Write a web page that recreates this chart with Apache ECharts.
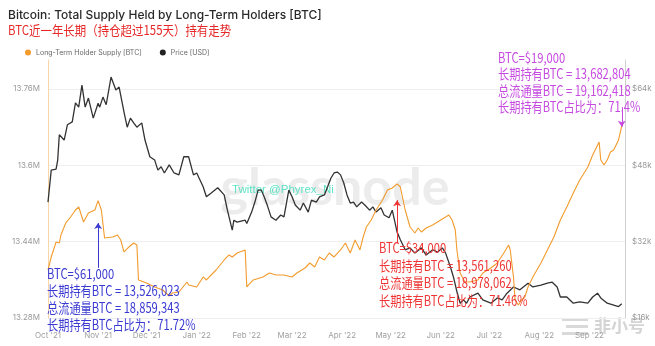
<!DOCTYPE html>
<html>
<head>
<meta charset="utf-8">
<script src="https://cdn.jsdelivr.net/npm/echarts@6/dist/echarts.min.js"></script>
<style>
  html, body { margin: 0; padding: 0; background: #ffffff; }
  #chart { width: 655px; height: 346px; }
</style>
</head>
<body>
<div id="chart"></div>
<script>
// Long-term holder supply, millions of BTC
const lthSupplyM = [
  ['2021-10-01', 13.3806], ['2021-10-03', 13.4079], ['2021-10-06', 13.4393], ['2021-10-08', 13.4372],
  ['2021-10-09', 13.4540], ['2021-10-12', 13.4792], ['2021-10-15', 13.4917], ['2021-10-18', 13.5064],
  ['2021-10-20', 13.5127], ['2021-10-23', 13.4813], ['2021-10-26', 13.5001], ['2021-10-30', 13.5064],
  ['2021-11-01', 13.5260], ['2021-11-03', 13.5064], ['2021-11-05', 13.4477], ['2021-11-10', 13.4498],
  ['2021-11-13', 13.4540], ['2021-11-15', 13.4435], ['2021-11-17', 13.4184], ['2021-11-20', 13.4288],
  ['2021-11-23', 13.4372], ['2021-11-25', 13.4330], ['2021-11-26', 13.3597],
  ['2021-12-01', 13.3534], ['2021-12-06', 13.3450], ['2021-12-11', 13.3387], ['2021-12-15', 13.3261],
  ['2021-12-17', 13.3324], ['2021-12-21', 13.3345], ['2021-12-26', 13.3555], ['2021-12-27', 13.3492],
  ['2022-01-01', 13.3450], ['2022-01-05', 13.3660], ['2022-01-07', 13.3597], ['2022-01-13', 13.3806],
  ['2022-01-18', 13.4016], ['2022-01-21', 13.4121], ['2022-01-23', 13.4079], ['2022-01-26', 13.4163],
  ['2022-01-31', 13.4226],
  ['2022-02-01', 13.3450], ['2022-02-05', 13.3597], ['2022-02-11', 13.3660], ['2022-02-15', 13.3743],
  ['2022-02-19', 13.3701], ['2022-02-24', 13.3701],
  ['2022-03-01', 13.3660], ['2022-03-04', 13.3743], ['2022-03-09', 13.3848], ['2022-03-12', 13.3953],
  ['2022-03-15', 13.3869], ['2022-03-18', 13.4079], ['2022-03-21', 13.4016], ['2022-03-24', 13.4163],
  ['2022-03-27', 13.4079], ['2022-03-31', 13.4226],
  ['2022-04-03', 13.4372], ['2022-04-06', 13.4163], ['2022-04-09', 13.4435], ['2022-04-12', 13.4226],
  ['2022-04-14', 13.4498], ['2022-04-16', 13.4708], ['2022-04-19', 13.4854], ['2022-04-22', 13.5064],
  ['2022-04-26', 13.5274], ['2022-04-29', 13.5483],
  ['2022-05-02', 13.5525], ['2022-05-05', 13.5613], ['2022-05-07', 13.5546], ['2022-05-10', 13.5064],
  ['2022-05-13', 13.4708], ['2022-05-16', 13.4582], ['2022-05-18', 13.4687], ['2022-05-20', 13.4603],
  ['2022-05-23', 13.4687], ['2022-05-27', 13.4750], ['2022-05-30', 13.4813],
  ['2022-06-04', 13.4917], ['2022-06-06', 13.4959], ['2022-06-08', 13.4854], ['2022-06-10', 13.4645],
  ['2022-06-11', 13.4226], ['2022-06-13', 13.3743], ['2022-06-16', 13.3555], ['2022-06-19', 13.3555],
  ['2022-06-24', 13.3597], ['2022-06-27', 13.3743],
  ['2022-07-02', 13.3848], ['2022-07-06', 13.3953], ['2022-07-10', 13.4163], ['2022-07-13', 13.4330],
  ['2022-07-14', 13.4226], ['2022-07-16', 13.3660], ['2022-07-17', 13.3177], ['2022-07-19', 13.3073],
  ['2022-07-21', 13.3177], ['2022-07-23', 13.3240], ['2022-07-25', 13.3450], ['2022-07-28', 13.3660],
  ['2022-08-02', 13.3953], ['2022-08-06', 13.4226], ['2022-08-10', 13.4498], ['2022-08-14', 13.4854],
  ['2022-08-18', 13.5127], ['2022-08-22', 13.5420], ['2022-08-26', 13.5693], ['2022-08-31', 13.5966],
  ['2022-09-03', 13.6217], ['2022-09-07', 13.6490], ['2022-09-08', 13.6112], ['2022-09-10', 13.6007],
  ['2022-09-12', 13.6112], ['2022-09-14', 13.6280], ['2022-09-16', 13.6322], ['2022-09-19', 13.6532],
  ['2022-09-21', 13.6828]
];

// BTC price, USD
const priceUsd = [
  ['2021-10-01', 40300], ['2021-10-03', 47000], ['2021-10-06', 47200], ['2021-10-07', 49100],
  ['2021-10-08', 54400], ['2021-10-11', 53300], ['2021-10-13', 56500], ['2021-10-16', 57100],
  ['2021-10-18', 61100], ['2021-10-20', 60200], ['2021-10-22', 64800], ['2021-10-24', 60200],
  ['2021-10-26', 62100], ['2021-10-29', 57900], ['2021-11-01', 61000], ['2021-11-02', 60200],
  ['2021-11-04', 62300], ['2021-11-06', 60700], ['2021-11-09', 66500], ['2021-11-12', 63800],
  ['2021-11-14', 64400], ['2021-11-17', 59200], ['2021-11-19', 56000], ['2021-11-21', 57900],
  ['2021-11-23', 56900], ['2021-11-25', 56000], ['2021-11-28', 56900], ['2021-11-30', 53300],
  ['2021-12-03', 49800], ['2021-12-06', 49100], ['2021-12-08', 47000], ['2021-12-10', 47700],
  ['2021-12-12', 46400], ['2021-12-15', 48100], ['2021-12-18', 46400], ['2021-12-21', 46000],
  ['2021-12-24', 49800], ['2021-12-27', 49800], ['2021-12-30', 46000],
  ['2022-01-01', 46400], ['2022-01-05', 43500], ['2022-01-07', 41400], ['2022-01-10', 42200],
  ['2022-01-14', 43300], ['2022-01-18', 41800], ['2022-01-20', 38600], ['2022-01-23', 34400],
  ['2022-01-24', 36500], ['2022-01-26', 36100], ['2022-01-31', 36500],
  ['2022-02-01', 35800], ['2022-02-04', 38200], ['2022-02-06', 40300], ['2022-02-08', 42800],
  ['2022-02-10', 42800], ['2022-02-12', 41200], ['2022-02-14', 39300], ['2022-02-16', 37200],
  ['2022-02-19', 36500], ['2022-02-22', 37600], ['2022-02-24', 37200], ['2022-02-27', 42800],
  ['2022-03-01', 41400], ['2022-03-03', 39700], ['2022-03-06', 38600], ['2022-03-08', 40100],
  ['2022-03-11', 38200], ['2022-03-13', 40700], ['2022-03-16', 40300], ['2022-03-18', 41400],
  ['2022-03-21', 41800], ['2022-03-23', 43500], ['2022-03-25', 45300], ['2022-03-27', 46400],
  ['2022-03-29', 46600], ['2022-03-31', 46000],
  ['2022-04-02', 44300], ['2022-04-04', 41800], ['2022-04-06', 40100], ['2022-04-08', 40300],
  ['2022-04-10', 39300], ['2022-04-13', 40300], ['2022-04-15', 39700], ['2022-04-18', 38600],
  ['2022-04-20', 39300], ['2022-04-22', 38200], ['2022-04-25', 39100], ['2022-04-27', 37600],
  ['2022-04-30', 37000],
  ['2022-05-02', 38600], ['2022-05-05', 34000], ['2022-05-07', 32400], ['2022-05-10', 30300],
  ['2022-05-13', 30700], ['2022-05-16', 29600], ['2022-05-20', 30700], ['2022-05-23', 29200],
  ['2022-05-27', 30300], ['2022-05-30', 29800],
  ['2022-06-02', 30700], ['2022-06-04', 29600], ['2022-06-07', 26700], ['2022-06-09', 24400],
  ['2022-06-11', 21500], ['2022-06-13', 19100], ['2022-06-15', 19800], ['2022-06-17', 19100],
  ['2022-06-19', 20400], ['2022-06-24', 21200], ['2022-06-27', 19800],
  ['2022-07-02', 19100], ['2022-07-06', 20200], ['2022-07-09', 19800], ['2022-07-12', 21200],
  ['2022-07-16', 22500], ['2022-07-20', 21900], ['2022-07-25', 23300], ['2022-07-28', 22500],
  ['2022-08-02', 22900], ['2022-08-06', 23300], ['2022-08-09', 23500], ['2022-08-12', 22500],
  ['2022-08-14', 20400], ['2022-08-18', 20400], ['2022-08-22', 19100], ['2022-08-26', 19400],
  ['2022-08-31', 19100],
  ['2022-09-03', 20400], ['2022-09-06', 21200], ['2022-09-08', 20200], ['2022-09-12', 19100],
  ['2022-09-16', 18700], ['2022-09-19', 18400], ['2022-09-21', 19000]
];

// Callout blocks: text lines, and arrow [date, from, to] in M BTC
const calloutBlue = ['BTC=$61,000', '长期持有BTC = 13,526,023', '总流通量BTC = 18,859,343', '长期持有BTC占比为：71.72%'];
const calloutRed = ['BTC=$34,000', '长期持有BTC = 13,561,260', '总流通量BTC = 18,978,062', '长期持有BTC占比为：71.46%'];
const calloutViolet = ['BTC=$19,000', '长期持有BTC = 13,682,804', '总流通量BTC = 19,162,418', '长期持有BTC占比为：71.4%'];
const arrowBlue = ['2021-11-01', 13.385, 13.479];
const arrowRed = ['2022-05-05', 13.437, 13.527];
const arrowViolet = ['2022-09-21', 13.722, 13.681];

const supplyTicks = { min: 13.28, interval: 0.16 };
const priceTicks = { min: 16000, interval: 16000 };

const BLUE = '#3a3ad2';
const RED = '#ee3434';
const VIOLET = '#c64ae0';
const ORANGE = '#f39b2c';

const chart = echarts.init(document.getElementById('chart'), null, { renderer: 'canvas' });

function arrow(a, color) {
  return [
    { coord: [a[0], a[1]], lineStyle: { color: color, width: 1, type: 'solid' }, itemStyle: { color: color } },
    { coord: [a[0], a[2]] }
  ];
}

function calloutText(lines, x, y, color, lh) {
  return {
    type: 'text', x: x, y: y, z: 100, scaleX: 0.8,
    style: {
      text: lines.join('\n'), fill: color, fontSize: 14,
      fontFamily: '"Noto Sans CJK SC", sans-serif', lineHeight: lh,
      verticalAlign: 'top', align: 'left'
    }
  };
}

chart.setOption({
  animation: false,
  backgroundColor: '#ffffff',
  textStyle: { fontFamily: 'Inter, Roboto, sans-serif' },
  legend: {
    left: 20, top: 44, icon: 'circle', itemWidth: 6, itemHeight: 6, itemGap: 18,
    textStyle: { fontSize: 7, color: '#666' },
    data: ['Long-Term Holder Supply [BTC]', 'Price [USD]']
  },
  grid: { left: 48, right: 30, top: 60, bottom: 28 },
  xAxis: {
    type: 'time',
    min: '2021-10-01', max: '2022-09-23',
    minInterval: 28 * 86400000, maxInterval: 31 * 86400000,
    axisLine: { show: false }, axisTick: { show: false }, splitLine: { show: false },
    axisLabel: {
      fontSize: 8, color: '#a0a0a0', margin: 14, hideOverlap: false,
      formatter: function (v) { return echarts.time.format(v, "{MMM} '{yy}", false); }
    }
  },
  yAxis: [
    {
      type: 'value', position: 'left',
      min: supplyTicks.min, max: 13.8208, interval: supplyTicks.interval,
      axisLine: { show: true, lineStyle: { color: '#f8d6a8' } },
      axisTick: { show: false },
      axisLabel: { fontSize: 8, color: '#9a9a9a', margin: 8, showMaxLabel: false,
        formatter: function (v) { return (+v.toFixed(2)) + 'M'; } },
      splitLine: { show: true, showMaxLine: false, lineStyle: { color: '#eeeeee' } }
    },
    {
      type: 'value', position: 'right',
      min: priceTicks.min, max: 70080, interval: priceTicks.interval,
      axisLine: { show: true, lineStyle: { color: '#d0d0d0' } },
      axisTick: { show: false },
      axisLabel: { fontSize: 8, color: '#9a9a9a', margin: 7, showMaxLabel: false,
        formatter: function (v) { return '$' + Math.round(v / 1000) + 'k'; } },
      splitLine: { show: false }
    }
  ],
  series: [
    {
      name: 'Long-Term Holder Supply [BTC]', type: 'line', yAxisIndex: 0, z: 4,
      showSymbol: false, symbol: 'circle', color: ORANGE,
      lineStyle: { width: 1.1, color: ORANGE },
      data: lthSupplyM,
      markLine: {
        silent: true, symbol: ['none', 'arrow'], symbolSize: 6,
        label: { show: false },
        data: [arrow(arrowBlue, BLUE), arrow(arrowRed, RED), arrow(arrowViolet, VIOLET)]
      }
    },
    {
      name: 'Price [USD]', type: 'line', yAxisIndex: 1, z: 3,
      showSymbol: false, symbol: 'circle', color: '#222',
      lineStyle: { width: 1.3, color: '#333' },
      data: priceUsd
    }
  ],
  graphic: [
    { type: 'text', x: 8, y: 9, z: 50,
      style: { text: 'Bitcoin: Total Supply Held by Long-Term Holders [BTC]', fill: '#2a2a2a',
        fontSize: 12, fontFamily: 'Inter, sans-serif', fontWeight: 500, verticalAlign: 'top' } },
    { type: 'text', x: 8, y: 24, z: 50, scaleX: 0.88,
      style: { text: 'BTC近一年长期（持仓超过155天）持有走势', fill: '#e62828',
        fontSize: 13, fontFamily: '"Noto Sans CJK SC", sans-serif', verticalAlign: 'top' } },
    { type: 'text', x: 335, y: 188, z: 0,
      style: { text: 'glassnode', fill: '#ececec', fontSize: 52, fontFamily: 'Lato, sans-serif',
        fontWeight: 'bold', align: 'center', verticalAlign: 'middle' } },
    { type: 'text', x: 232, y: 190, z: 1,
      style: { text: 'Twitter @Phyrex_Ni', fill: '#5fe3c6', fontSize: 11.5,
        fontFamily: 'Liberation Sans, sans-serif', verticalAlign: 'middle' } },
    calloutText(calloutBlue, 47, 265, BLUE, 17),
    calloutText(calloutRed, 379, 239, RED, 17.5),
    calloutText(calloutViolet, 498, 49, VIOLET, 16.5),
    { type: 'group', x: 562, y: 316, z: 120, children: [
      { type: 'rect', shape: { x: 0, y: 2, width: 26, height: 3 }, style: { fill: 'rgba(120,120,120,0.28)' } },
      { type: 'rect', shape: { x: 4, y: 9, width: 22, height: 3 }, style: { fill: 'rgba(120,120,120,0.28)' } },
      { type: 'rect', shape: { x: 0, y: 16, width: 26, height: 3 }, style: { fill: 'rgba(120,120,120,0.28)' } },
      { type: 'text', x: 32, y: 10, style: { text: '非小号', fill: 'rgba(120,120,120,0.32)', fontSize: 17,
        fontWeight: 'bold', fontFamily: '"Noto Sans CJK SC", sans-serif', verticalAlign: 'middle' } }
    ] }
  ]
});
</script>
</body>
</html>
